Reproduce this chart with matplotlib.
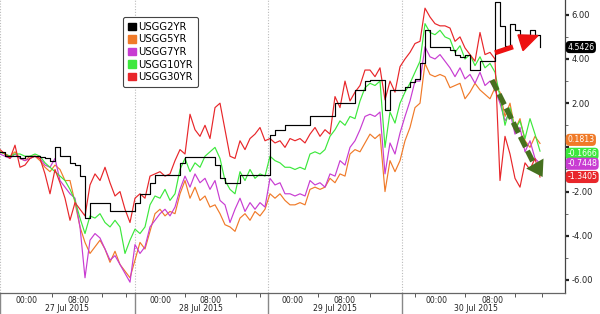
import matplotlib
matplotlib.use("Agg")
import matplotlib.pyplot as plt
from matplotlib.patches import Patch, Polygon
import numpy as np

# one reading every 5 units along the session axis (0 .. 540)
step = 5

usgg2 = [-0.2, -0.4, -0.4, -0.4, -0.5, -0.4, -0.4, -0.4, -0.45, -0.5,
         -0.6, 0.0, -0.4, -0.4, -0.7, -0.8, -1.3, -3.2, -2.5, -2.5,
         -2.5, -2.5, -2.9, -2.9, -2.9, -2.9, -2.9, -2.5, -2.1, -2.1,
         -1.6, -1.25, -1.25, -1.25, -1.25, -1.25, -0.7, -0.43, -0.43, -0.43,
         -0.43, -0.43, -0.43, -0.8, -1.4, -1.6, -1.6, -1.6, -1.25, -1.25,
         -1.25, -1.25, -1.25, -1.25, 0.57, 0.8, 0.8, 1.0, 1.0, 1.0,
         1.0, 1.0, 1.4, 1.4, 1.4, 1.4, 1.4, 2.0, 2.0, 2.0,
         2.0, 2.6, 2.6, 3.0, 3.05, 3.05, 3.05, 1.7, 2.6, 2.6,
         2.6, 2.75, 2.95, 3.1, 3.8, 5.3, 4.55, 4.55, 4.55, 4.55,
         4.4, 4.2, 4.1, 4.2, 3.5, 3.5, 3.9, 3.9, 3.9, 6.6,
         5.5, 4.6, 5.6, 5.3, 5.1, 5.1, 5.3, 5.1, 4.54]

usgg5 = [-0.2, -0.3, -0.4, -0.2, -0.5, -0.6, -0.4, -0.4, -0.6, -0.9,
         -1.1, -0.8, -1.0, -1.5, -1.5, -2.5, -3.6, -4.3, -4.8, -4.5,
         -4.2, -4.6, -5.2, -4.7, -5.3, -5.6, -5.9, -5.1, -4.3, -4.6,
         -3.8, -3.0, -2.8, -3.1, -2.9, -3.0, -2.1, -1.5, -2.3, -1.8,
         -2.4, -2.2, -2.7, -2.6, -3.0, -3.5, -3.6, -3.8, -3.2, -3.0,
         -3.3, -2.9, -3.1, -2.8, -2.1, -2.3, -2.1, -2.4, -2.6, -2.6,
         -2.5, -2.6, -1.9, -1.8, -1.9, -1.8, -1.4, -1.6, -1.2, -1.3,
         -0.3, -0.1, -0.2, 0.2, 0.6, 0.4, 0.6, -2.0, -0.6, -1.1,
         -0.6, 0.3, 0.9, 1.8, 2.0, 3.8, 3.3, 3.2, 3.3, 3.2,
         2.7, 2.8, 2.9, 2.2, 2.5, 2.9, 2.6, 2.4, 2.2, 2.7,
         2.5, 1.4, 2.0, 0.8, 1.3, 0.3, 0.0, 0.5, 0.18]

usgg7 = [-0.3, -0.4, -0.5, -0.3, -0.5, -0.6, -0.5, -0.4, -0.5, -0.8,
         -0.9, -0.5, -1.5, -1.8, -2.1, -2.3, -3.6, -5.9, -4.2, -3.9,
         -4.1, -4.6, -5.1, -4.9, -5.3, -5.7, -6.1, -4.4, -4.8, -4.5,
         -3.6, -3.3, -3.0, -2.8, -3.1, -2.7, -1.9, -1.3, -1.8, -1.2,
         -1.6, -1.4, -1.9, -1.5, -2.4, -2.6, -3.4, -2.8, -2.3, -2.9,
         -2.5, -2.8, -2.5, -2.7, -1.4, -1.7, -1.6, -2.1, -2.1, -2.2,
         -2.1, -2.2, -1.5, -1.7, -1.6, -1.8, -1.2, -1.3, -0.6, -0.8,
         0.0, 0.3, 0.8, 1.4, 1.5, 1.4, 1.6, -1.2, 0.2, -0.3,
         0.65, 1.4, 2.1, 3.0, 3.0, 4.55, 4.1, 4.0, 4.2, 3.9,
         3.6, 3.2, 3.6, 3.1, 3.3, 2.9, 3.4, 2.8, 3.0, 2.6,
         2.0, 1.2, 1.6, 0.6, 0.9, -0.2, 0.3, -0.5, -0.74]

usgg10 = [-0.2, -0.3, -0.4, -0.3, -0.3, -0.4, -0.4, -0.3, -0.4, -0.7,
          -0.9, -1.1, -1.3, -1.5, -1.9, -2.4, -3.2, -3.9, -3.1, -3.2,
          -3.0, -3.4, -3.6, -3.3, -3.6, -4.8, -4.2, -3.7, -3.9, -3.6,
          -2.6, -2.2, -2.3, -1.9, -2.4, -2.1, -1.0, -0.5, -1.1, -0.7,
          -0.9, -0.4, -0.2, 0.0, -0.5, -1.5, -1.9, -2.1, -1.1, -1.5,
          -1.0, -1.4, -1.2, -1.3, -0.4, -0.6, -0.7, -0.9, -0.9, -1.0,
          -0.9, -1.0, -0.3, -0.2, -0.3, -0.1, 0.5, 0.8, 1.2, 1.0,
          1.4, 1.3, 2.1, 2.7, 2.9, 2.8, 3.0, 0.0, 1.6, 1.1,
          2.0, 2.5, 2.9, 3.4, 3.9, 5.6, 5.2, 5.1, 5.3, 5.0,
          4.9, 4.3, 4.6, 4.0, 4.2, 3.7, 4.1, 3.6, 3.8, 3.4,
          2.3, 1.0, 1.8, 0.8, 1.2, 0.4, 1.3, 0.6, -0.17]

usgg30 = [-0.1, -0.3, -0.5, 0.1, -0.9, -0.8, -0.5, -0.4, -0.5, -1.2,
          -2.1, -1.0, -1.6, -2.3, -3.3, -2.5, -2.8, -3.1, -1.7, -1.2,
          -1.5, -0.9, -1.6, -2.2, -2.0, -2.8, -3.4, -2.3, -2.1, -2.3,
          -1.3, -1.2, -1.1, -1.3, -1.2, -0.6, -0.1, -0.3, 1.5, 0.8,
          0.5, 1.0, 0.4, 1.8, 2.0, 0.8, -0.4, -0.5, 0.3, -0.1,
          0.4, 0.6, 0.9, 0.3, 0.4, 0.2, 0.3, 0.0, 0.4, 0.3,
          0.4, 0.2, 0.6, 0.9, 0.5, 0.8, 0.6, 2.3, 1.8, 3.0,
          2.1, 2.5, 2.8, 3.5, 3.5, 3.2, 3.6, 2.15, 3.0, 2.5,
          3.65, 4.0, 4.3, 4.7, 4.8, 6.3, 5.9, 5.6, 5.5, 5.5,
          5.4, 4.8, 5.0, 4.5, 4.2, 3.9, 5.2, 4.2, 4.3, 4.0,
          -1.5, 0.5, -0.3, -1.4, -1.8, -0.7, -1.0, -0.5, -1.34]

names = ["USGG2YR", "USGG5YR", "USGG7YR", "USGG10YR", "USGG30YR"]
lastLabels = ["4.5426", "0.1813", "-0.7448", "-0.1666", "-1.3405"]

dayStarts = [0, 135, 268, 402]
dayLabels = ["27 Jul 2015", "28 Jul 2015", "29 Jul 2015", "30 Jul 2015"]
dayCenters = [67, 201, 335, 476]
timePos = [27, 78, 160, 211, 293, 345, 437, 492]
timeLabels = ["00:00", "08:00"] * 4
minorPos = [52, 102, 126, 185, 236, 260, 318, 370, 415, 465, 515, 542]
yTicks = [-6, -4, -2, 0, 2, 4, 6]

colors = ["#000000", "#f07a28", "#c83cd2", "#3ce83c", "#e8262a"]
arrowGreen = "#46701f"

fig = plt.figure(figsize=(6, 3.14), dpi=100)
ax = fig.add_axes([0, 21 / 314, 565 / 600, 293 / 314])

series = [usgg2, usgg5, usgg7, usgg10, usgg30]
x = np.arange(len(usgg2)) * step

# draw order: curves first, 2yr on top
for k in [1, 2, 3, 4, 0]:
    ds = "steps-post" if k == 0 else "default"
    ax.plot(x, series[k], color=colors[k], lw=0.85, drawstyle=ds,
            zorder=3 + (k == 0))

ax.set_xlim(0, 565)
ax.set_ylim(-6.59, 6.67)

# day boundaries
for d in dayStarts:
    ax.axvline(d, color="#bbbbbb", lw=0.8, ls=(0, (1, 1.5)), zorder=1)
    ax.plot([d, d], [0, -0.075], transform=ax.get_xaxis_transform(),
            color="#888888", lw=1.0, clip_on=False)

ax.set_xticks(timePos, timeLabels)
ax.set_xticks(minorPos, minor=True)
ax.tick_params(axis="x", which="major", length=0, labelsize=5.6, pad=2.0,
               colors="#222222")
ax.tick_params(axis="x", which="minor", length=3, width=0.7, color="#555555")
for c, lab in zip(dayCenters, dayLabels):
    ax.text(c, -0.052, lab, transform=ax.get_xaxis_transform(), ha="center",
            va="center", fontsize=5.6, color="#222222")

# the 0.00 label sits under the value tags, so leave it blank
ax.yaxis.tick_right()
ax.set_yticks(yTicks)
ax.set_yticklabels(["%.2f" % v if v != 0 else "" for v in yTicks])
ax.set_yticks([-5, -3, -1, 1, 3, 5], minor=True)
ax.tick_params(axis="y", which="major", length=3, width=1.6, labelsize=6,
               pad=1.5, colors="#222222")
ax.tick_params(axis="y", which="minor", length=2, width=0.6, color="#555555")

for s in ["top", "left"]:
    ax.spines[s].set_visible(False)
ax.spines["right"].set_color("#444444")
ax.spines["bottom"].set_color("#666666")
ax.spines["right"].set_linewidth(0.9)
ax.spines["bottom"].set_linewidth(0.9)

# last value tags on the right, nudged apart a little so they stay readable
tagNudge = [0.0, 0.16, 0.0, -0.12, 0.0]
for k in [0, 3, 2, 4, 1]:
    ax.text(1.004, series[k][-1] + tagNudge[k], lastLabels[k],
            transform=ax.get_yaxis_transform(),
            ha="left", va="center", fontsize=5.6,
            color="white", clip_on=False, zorder=6,
            bbox=dict(boxstyle="round,pad=0.2,rounding_size=0.5", fc=colors[k], ec="none"))

# annotations: red arrow, green dashed arrow
ax.plot([495, 513], [4.28, 4.55], color="#ee1111", lw=3.6, solid_capstyle="butt",
        zorder=5)
ax.add_patch(Polygon([[518, 5.09], [538, 5.06], [523, 4.38]], closed=True,
                     color="#ee1111", zorder=5))
ax.plot([492, 534], [3.05, -0.75], color=arrowGreen, lw=3.8,
        ls=(0, (2.2, 0.8)), zorder=5)
ax.annotate("", xy=(544, -1.45), xytext=(530, -0.35),
            arrowprops=dict(arrowstyle="-|>,head_length=0.7,head_width=0.45",
                            color=arrowGreen, lw=0, mutation_scale=16), zorder=5)

handles = [Patch(color=c) for c in colors]
leg = ax.legend(handles, names, loc="upper left",
                bbox_to_anchor=(118 / 565, 1 - 12 / 293), fontsize=7.2,
                handlelength=0.75, handleheight=0.75, handletextpad=0.3,
                labelspacing=0.25, borderpad=0.5, fancybox=True, framealpha=1)
leg.get_frame().set_edgecolor("#444444")
leg.get_frame().set_linewidth(0.8)
leg.set_zorder(7)

fig.savefig("out.png", dpi=100)
